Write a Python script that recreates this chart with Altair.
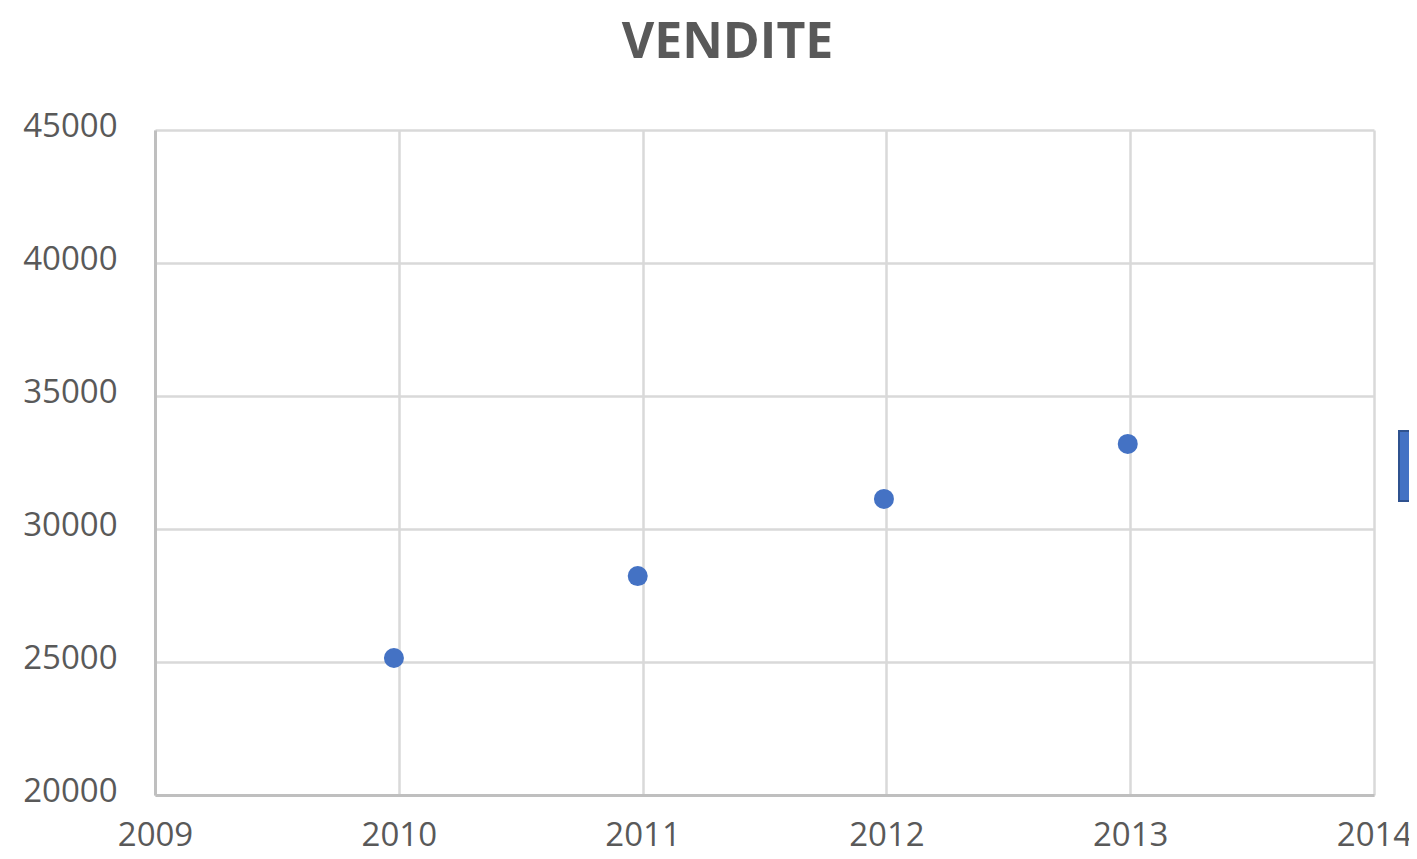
import altair as alt
import pandas as pd

years = [2009.98, 2010.98, 2011.99, 2012.99]
sales = [25150, 28230, 31130, 33200]
series = ["Vendite"] * 4
x_ticks = [2009, 2010, 2011, 2012, 2013, 2014]
y_ticks = [20000, 25000, 30000, 35000, 40000, 45000]

df = pd.DataFrame({"anno": years, "vendite": sales, "serie": series})

FONT = "Open Sans"
TXT = "#595959"
GRID = "#d9d9d9"

chart = alt.Chart(df).mark_circle(size=400, opacity=1).encode(
    x=alt.X("anno:Q",
            scale=alt.Scale(domain=[2009, 2014], nice=False, zero=False),
            axis=alt.Axis(values=x_ticks, format="d", title=None, ticks=False, tickSize=0,
                          labelPadding=24, labelFontSize=33, labelColor=TXT, labelFont=FONT,
                          grid=True, gridColor=GRID, gridWidth=2.5,
                          domainColor="#bfbfbf", domainWidth=3, labelFlush=False)),
    y=alt.Y("vendite:Q",
            scale=alt.Scale(domain=[20000, 45000], nice=False, zero=False),
            axis=alt.Axis(values=y_ticks, format="d", title=None, ticks=False, tickSize=0,
                          labelPadding=38, labelFontSize=33, labelColor=TXT, labelFont=FONT,
                          grid=True, gridColor=GRID, gridWidth=2.5, labelBaseline="middle",
                          labelOffset=-4,
                          domainColor="#bfbfbf", domainWidth=3, labelFlush=False)),
    color=alt.Color("serie:N", scale=alt.Scale(range=["#4472C4"]),
                    legend=alt.Legend(orient="none", legendX=1243, legendY=300, title=None,
                                      padding=0, symbolType="square", symbolSize=4900,
                                      symbolFillColor="#4472C4", symbolStrokeColor="#2F528F",
                                      symbolStrokeWidth=2, labelFontSize=33, labelColor=TXT,
                                      labelFont=FONT)),
).properties(
    width=1219,
    height=665,
    title=alt.TitleParams("VENDITE", fontSize=50, fontWeight="bold", color=TXT, font=FONT,
                          anchor="middle", frame="group", dx=-37, offset=42),
    autosize=alt.AutoSizeParams(type="none"),
    padding={"left": 147, "top": 122, "right": 35, "bottom": 56},
).configure_view(stroke=None)

chart.save("out.html", embed_options={"renderer": "svg", "actions": False})
